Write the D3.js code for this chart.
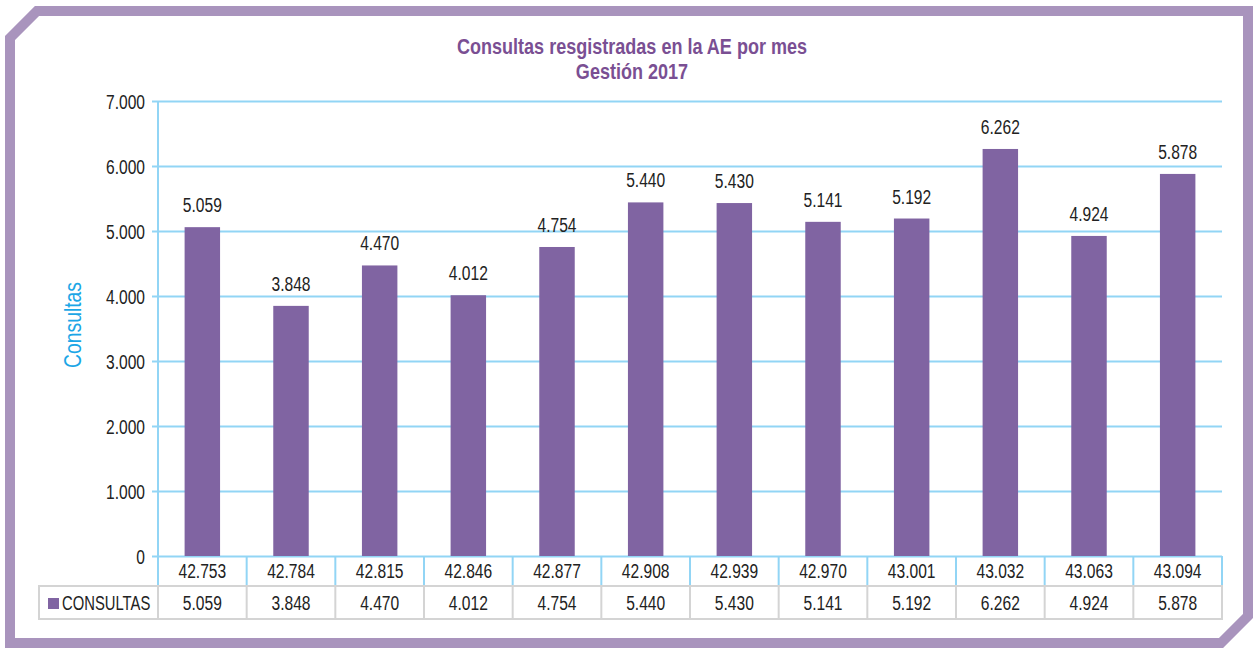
<!DOCTYPE html>
<html>
<head>
<meta charset="utf-8">
<script src="https://cdn.jsdelivr.net/npm/d3@7"></script>
<style>
  body { margin: 0; background: #fff; }
  text { font-family: "Liberation Sans", Arial, sans-serif; }
</style>
</head>
<body>
<svg id="chart"></svg>
<script>
// data
const months = ['42.753', '42.784', '42.815', '42.846', '42.877', '42.908',
                '42.939', '42.970', '43.001', '43.032', '43.063', '43.094'];
const consultas = [5059, 3848, 4470, 4012, 4754, 5440, 5430, 5141, 5192, 6262, 4924, 5878];
const yTicks = [0, 1000, 2000, 3000, 4000, 5000, 6000, 7000];
const seriesName = 'CONSULTAS';

const width = 1253;
const height = 648;

const purple = '#8064a2';
const gridBlue = '#92d5f5';
const tableGrey = '#d4d4d4';
const squeeze = 0.8; // the original uses a condensed face
const fs = 19.5;

const loc = d3.formatLocale({ decimal: ',', thousands: '.', grouping: [3], currency: ['', ''] });
const fmt = loc.format(',d');

const svg = d3.select('#chart').attr('width', width).attr('height', height);

// put text at (x, y) squeezed horizontally
const narrowText = (g, px, py, k = squeeze) =>
    g.append('text').attr('transform', `translate(${px},${py}) scale(${k},1)`);

// frame with the two cut corners
const c = 27;
const frame = [[10 + c, 11], [1248, 11], [1248, 643 - c], [1248 - c, 643], [10, 643], [10, 11 + c]];
svg.append('polygon')
    .attr('points', frame.map(p => p.join(',')).join(' '))
    .attr('fill', '#fff')
    .attr('stroke', '#a994bd')
    .attr('stroke-width', 10);

// title
[['Consultas resgistradas en la AE por mes', 54], ['Gestión 2017', 79]].forEach(([t, ty]) => {
    narrowText(svg, 632, ty, 0.82)
        .attr('text-anchor', 'middle')
        .attr('fill', '#7a4f93')
        .attr('font-weight', 'bold')
        .attr('font-size', 22)
        .text(t);
});

const plotLeft = 158, plotRight = 1222, plotTop = 101, plotBottom = 556;

const x = d3.scaleBand().domain(months).range([plotLeft, plotRight]).paddingInner(0).paddingOuter(0);
const y = d3.scaleLinear().domain([0, 7000]).range([plotBottom, plotTop]);

// gridlines + ticks
const yAxis = d3.axisLeft(y).tickValues(yTicks).tickSize(-(plotRight - plotLeft)).tickFormat(fmt);
const gy = svg.append('g').attr('transform', `translate(${plotLeft},0)`).call(yAxis);
gy.select('.domain').remove();
gy.selectAll('.tick line').attr('stroke', gridBlue).attr('stroke-width', 2).attr('x1', -6);
gy.selectAll('.tick text')
    .attr('x', 0)
    .attr('dy', '0.36em')
    .attr('transform', `translate(-13,0) scale(${squeeze},1)`)
    .attr('fill', '#222')
    .attr('font-size', fs);

// axis line
svg.append('line')
    .attr('x1', plotLeft).attr('x2', plotLeft)
    .attr('y1', plotTop).attr('y2', plotBottom + 30)
    .attr('stroke', gridBlue).attr('stroke-width', 2);

// bars
const barW = x.bandwidth() * 0.4;
svg.append('g').selectAll('rect')
    .data(consultas)
    .enter()
    .append('rect')
    .attr('x', (d, i) => x(months[i]) + (x.bandwidth() - barW) / 2)
    .attr('y', d => y(d))
    .attr('width', barW)
    .attr('height', d => plotBottom - y(d))
    .attr('fill', purple);

// value labels
const labels = svg.append('g');
consultas.forEach((d, i) => {
    narrowText(labels, x(months[i]) + x.bandwidth() / 2, y(d) - 15)
        .attr('text-anchor', 'middle')
        .attr('fill', '#222')
        .attr('font-size', fs)
        .text(fmt(d));
});

// y axis title
svg.append('text')
    .attr('transform', `translate(81,325) rotate(-90) scale(0.84,1)`)
    .attr('text-anchor', 'middle')
    .attr('fill', '#1ca6e6')
    .attr('font-size', 23)
    .text('Consultas');

// data table
const rowH1 = 30, rowH2 = 33;
const row1Top = plotBottom, row2Top = plotBottom + rowH1, tableBottom = row2Top + rowH2;
const legendLeft = 39;

const table = svg.append('g');

// row 2 (grey grid)
table.append('rect')
    .attr('x', legendLeft).attr('y', row2Top)
    .attr('width', plotRight - legendLeft).attr('height', rowH2)
    .attr('fill', 'none').attr('stroke', tableGrey).attr('stroke-width', 2);
table.selectAll('.vgrey')
    .data(months)
    .enter()
    .append('line')
    .attr('x1', d => x(d)).attr('x2', d => x(d))
    .attr('y1', row2Top).attr('y2', tableBottom)
    .attr('stroke', tableGrey).attr('stroke-width', 2);

// row 1 separators (blue, continuing the axis)
table.selectAll('.vblue')
    .data(months.concat(['end']))
    .enter()
    .append('line')
    .attr('x1', d => d === 'end' ? plotRight : x(d))
    .attr('x2', d => d === 'end' ? plotRight : x(d))
    .attr('y1', row1Top).attr('y2', row2Top - 1)
    .attr('stroke', gridBlue).attr('stroke-width', 2);

months.forEach((m, i) => {
    const cx = x(m) + x.bandwidth() / 2;
    narrowText(table, cx, row1Top + 22)
        .attr('text-anchor', 'middle')
        .attr('fill', '#222')
        .attr('font-size', fs)
        .text(m);
    narrowText(table, cx, row2Top + 24)
        .attr('text-anchor', 'middle')
        .attr('fill', '#222')
        .attr('font-size', fs)
        .text(fmt(consultas[i]));
});

// legend key in the table
table.append('rect')
    .attr('x', 48).attr('y', row2Top + 12)
    .attr('width', 11).attr('height', 11)
    .attr('fill', purple);
narrowText(table, 62, row2Top + 24, 0.76)
    .attr('fill', '#222')
    .attr('font-size', fs)
    .text(seriesName);
</script>
</body>
</html>
